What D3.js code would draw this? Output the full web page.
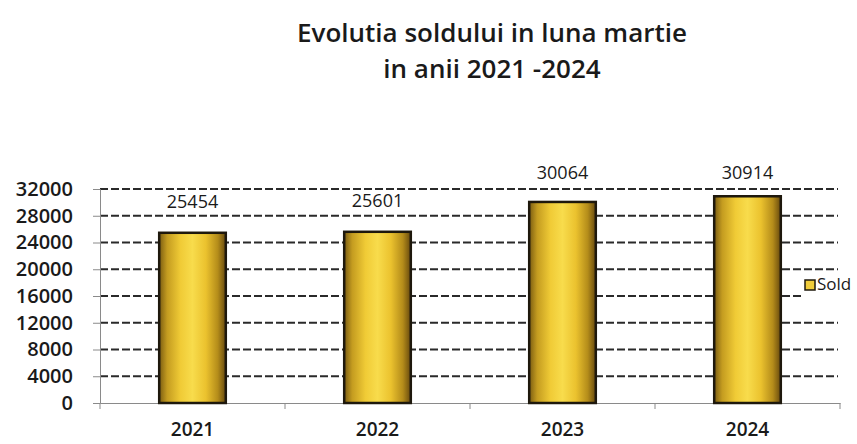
<!DOCTYPE html>
<html><head><meta charset="utf-8">
<script src="https://cdn.jsdelivr.net/npm/d3@7"></script>
<style>body{margin:0;background:#fff}svg{display:block}</style>
</head><body>
<svg id="c" width="857" height="444"></svg>
<script>
const titleLines = ["Evolutia soldului in luna martie", "in anii 2021 -2024"];
const categories = ["2021", "2022", "2023", "2024"];
const soldValues = [25454, 25601, 30064, 30914];
const yTicks = [0, 4000, 8000, 12000, 16000, 20000, 24000, 28000, 32000];
const seriesName = "Sold";

(function () {
const svg = d3.select("#c");
const font = "'Open Sans', sans-serif";
const pLeft = 100, pRight = 840, pTop = 189, pBottom = 403;

const x = d3.scaleBand().domain(categories).range([pLeft, pRight]).paddingInner(0.64).paddingOuter(0.32);
const y = d3.scaleLinear().domain([0, 32000]).range([pBottom, pTop]);

const defs = svg.append("defs");
const g = defs.append("linearGradient").attr("id", "gold").attr("x1", "0").attr("x2", "1").attr("y1", "0").attr("y2", "0");
[[0, "#7a5c12"], [0.12, "#c49c20"], [0.32, "#f0cb36"], [0.5, "#f8dc4c"], [0.7, "#ebc22e"], [0.88, "#b48c1a"], [1, "#66490e"]]
  .forEach(([o, c]) => g.append("stop").attr("offset", o).attr("stop-color", c));

// title
svg.selectAll("text.title").data(titleLines).join("text")
  .attr("class", "title")
  .attr("x", 492).attr("y", (d, i) => 42 + i * 36)
  .attr("text-anchor", "middle")
  .attr("font-family", font).attr("font-weight", 600).attr("font-size", 26)
  .attr("fill", "#1a1a1a").text(d => d);

// gridlines
svg.append("g").selectAll("line").data(yTicks.filter(t => t > 0)).join("line")
  .attr("x1", pLeft).attr("x2", pRight - 2)
  .attr("y1", d => y(d)).attr("y2", d => y(d))
  .attr("stroke", "#2a2a2a").attr("stroke-width", 2).attr("stroke-dasharray", "8,3");

// y axis
const ya = svg.append("g").attr("transform", `translate(${pLeft},0)`)
  .call(d3.axisLeft(y).tickValues(yTicks).tickSize(7).tickPadding(20).tickFormat(d3.format("d")));
ya.select(".domain").attr("stroke", "#8a8a8a");
ya.selectAll(".tick line").attr("stroke", "#8a8a8a");
ya.selectAll("text").attr("font-family", font).attr("font-size", 20).attr("font-weight", 600).attr("fill", "#1a1a1a");

// x axis
const xa = svg.append("g").attr("transform", `translate(0,${pBottom})`)
  .call(d3.axisBottom(x).tickSize(0).tickPadding(20));
xa.select(".domain").attr("stroke", "#8a8a8a");
xa.selectAll("text").attr("font-family", font).attr("font-size", 19).attr("font-weight", 600).attr("fill", "#1a1a1a");
svg.append("g").selectAll("line").data(d3.range(categories.length + 1)).join("line")
  .attr("x1", i => pLeft + i * (pRight - pLeft) / categories.length)
  .attr("x2", i => pLeft + i * (pRight - pLeft) / categories.length)
  .attr("y1", pBottom).attr("y2", pBottom + 6)
  .attr("stroke", "#8a8a8a");

// bars
svg.append("g").selectAll("rect").data(soldValues).join("rect")
  .attr("x", (d, i) => x(categories[i]))
  .attr("y", d => y(d))
  .attr("width", x.bandwidth())
  .attr("height", d => pBottom - y(d))
  .attr("fill", "url(#gold)")
  .attr("stroke", "#1e180c").attr("stroke-width", 2.5);

// value labels
svg.append("g").selectAll("text").data(soldValues).join("text")
  .attr("x", (d, i) => x(categories[i]) + x.bandwidth() / 2)
  .attr("y", d => Math.max(y(d) - 25, 179))
  .attr("text-anchor", "middle")
  .attr("font-family", font).attr("font-size", 18).attr("fill", "#1a1a1a")
  .text(d => d);

// legend
const lg = svg.append("g");
lg.append("rect").attr("x", 802).attr("y", 274).attr("width", 55).attr("height", 26).attr("fill", "#fff");
lg.append("rect").attr("x", 805).attr("y", 280).attr("width", 10).attr("height", 10)
  .attr("fill", "#f0cc3a").attr("stroke", "#1e180c").attr("stroke-width", 1.5);
lg.append("text").attr("x", 817).attr("y", 290)
  .attr("font-family", font).attr("font-size", 17).attr("fill", "#1a1a1a").text(seriesName);
})();
</script>
</body></html>
